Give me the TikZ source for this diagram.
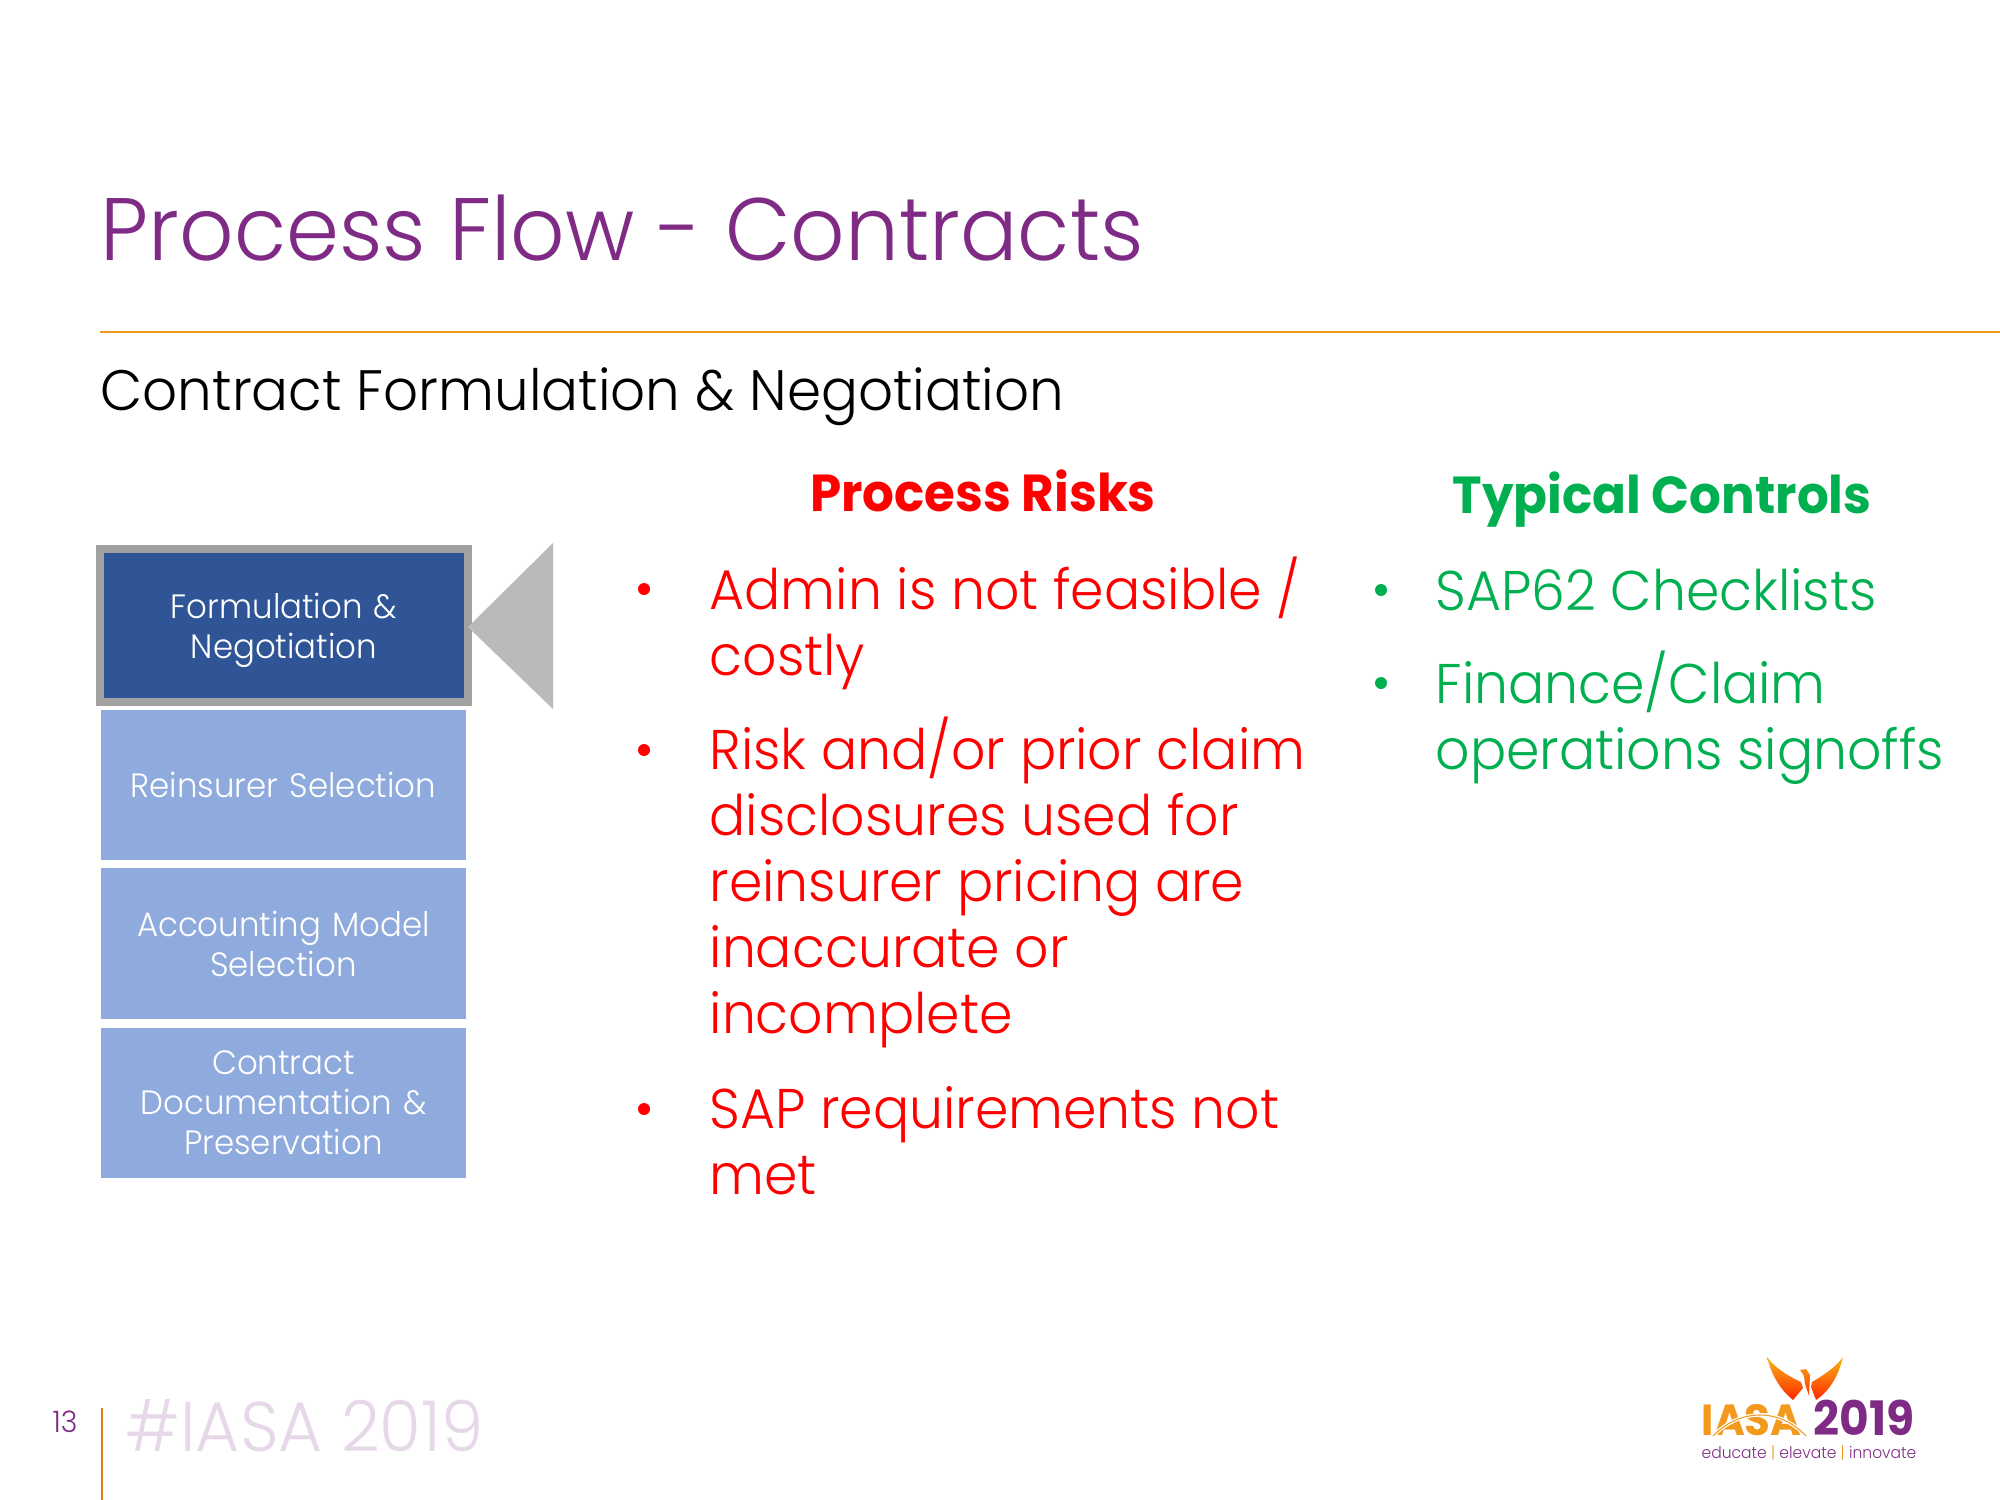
\documentclass[tikz,border=0pt]{standalone}
\usepackage{fontspec}
\setmainfont{Poppins Light}[BoldFont={Poppins Bold},FakeStretch=0.96]
\usepackage{tikz}
\definecolor{iasapurple}{HTML}{7F2B85}
\definecolor{iasaorange}{HTML}{F39A1E}
\definecolor{hashtint}{HTML}{E6D8E8}
\definecolor{darkbox}{HTML}{2F5597}
\definecolor{lightbox}{HTML}{8FAADC}
\definecolor{riskred}{HTML}{FF0000}
\definecolor{ctrlgreen}{HTML}{00B050}
\tikzset{
  line/.style={inner sep=0,anchor=base west,align=left},
  stepbox/.style={fill=lightbox,text=white,inner sep=0,minimum width=3.65cm,minimum height=1.5cm,
    text width=3.5cm,align=center,font=\fontsize{9.6}{11.4}\selectfont},
  riskitem/.style={line,anchor=north west,text=riskred,font=\fontsize{15.9}{18.8}\selectfont},
  ctrlitem/.style={line,anchor=north west,text=ctrlgreen,font=\fontsize{15.9}{18.8}\selectfont},
}
\begin{document}
\begin{tikzpicture}[x=0.01cm,y=-0.01cm]
  \useasboundingbox (0,0) rectangle (2000,1500);
  % heading
  \node[line,text=iasapurple,font=\fontsize{25.2}{30}\selectfont] (title) at (100,261) {Process Flow - Contracts};
  \coordinate (ruleL) at (100,332);
  \coordinate (ruleR) at (2000,332);
  \draw[iasaorange,line width=0.6] (ruleL)--(ruleR);
  \node[line,font=\fontsize{16.2}{20}\selectfont] (sub) at (100,410) {Contract Formulation \& Negotiation};
  % left column
  \foreach \n/\y/\t in {reins/785/{Reinsurer Selection},
                        model/943.5/{Accounting Model\\Selection},
                        docs/1103/{Contract\\Documentation \&\\Preservation}}{
    \node[stepbox] (\n) at (283.5,\y) {\t};
  }
  \node[stepbox,fill=darkbox,draw=black!37,line width=0.08cm,minimum width=3.68cm,minimum height=1.53cm] (form) at (284,625.5) {};
  \node[stepbox,fill=none] (formtxt) at ([yshift=-0.05cm]form.center) {Formulation \&\\Negotiation};
  \fill[black!27] (468,627)--(553,543)--(553,709)--cycle;
  % risks
  \node[line,anchor=base,text=riskred,font=\bfseries\fontsize{14.8}{20}\selectfont] (risks) at (983,511) {Process Risks};
  \foreach \n/\y/\b/\t in {adm/606/589/{Admin is not feasible /\\costly},
                        pri/766/750/{Risk and/or prior claim\\disclosures used for\\reinsurer pricing are\\inaccurate or\\incomplete},
                        sap/1128/1109/{SAP requirements not\\met}}{
    \node[riskitem] (\n) at (709,\y-50) {\rule{0pt}{0.5cm}\t};
    \fill[riskred] (644,\b) circle (6);
  }
  % controls
  \node[line,anchor=base,text=ctrlgreen,font=\bfseries\fontsize{14.8}{20}\selectfont] (ctrls) at (1662,513) {Typical Controls};
  \foreach \n/\y/\b/\t in {chk/610/590/{SAP62 Checklists},
                        sign/700/683/{Finance/Claim\\operations signoffs}}{
    \node[ctrlitem] (\n) at (1435,\y-50) {\rule{0pt}{0.5cm}\t};
    \fill[ctrlgreen] (1381,\b) circle (6);
  }
  % footer
  \node[line,text=iasapurple,font=\fontsize{8.4}{10}\selectfont] (page) at (52,1432) {13};
  \draw[iasaorange!85!black,line width=0.8] (102,1408)--(102,1500);
  \node[line,text=hashtint,font=\fontsize{20}{22}\selectfont] (hash) at (125,1451) {\#IASA 2019};
  % logo
  \shade[top color=iasaorange!70!yellow,bottom color=red!70!orange]
    (1767,1357) .. controls (1775,1368) and (1788,1376) .. (1801,1382) -- (1803,1388) -- (1793,1400)
      .. controls (1783,1392) and (1772,1378) .. (1767,1357) -- cycle
    (1843,1357) .. controls (1835,1368) and (1822,1376) .. (1812,1382) -- (1811,1387) -- (1816,1400)
      .. controls (1828,1392) and (1838,1378) .. (1843,1357) -- cycle
    (1800,1370) -- (1806,1369) -- (1810,1375) -- (1809,1396) -- (1805,1384) -- (1804,1376) -- cycle;
  \node[line,text=iasaorange,font=\bfseries\fontsize{12.4}{13}\selectfont] (lgiasa) at (1701,1435) {IASA};
  \coordinate (arcL) at (1713,1436);
  \coordinate (arcR) at (1806,1436);
  \draw[white,line width=1] (arcL) .. controls (1740,1408) and (1780,1408) .. (arcR);
  \draw[iasaorange,line width=0.3] (arcL) .. controls (1740,1408) and (1780,1408) .. (arcR);
  \node[line,text=iasapurple,font=\bfseries\fontsize{13.5}{14}\selectfont] (lgyear) at (1813,1435) {2019};
  \node[line,text=iasapurple,font=\fontsize{4.6}{5}\selectfont] (lgtag) at (1701,1458) {educate {\color{iasaorange}|} elevate {\color{iasaorange}|} innovate};
\end{tikzpicture}
\end{document}
